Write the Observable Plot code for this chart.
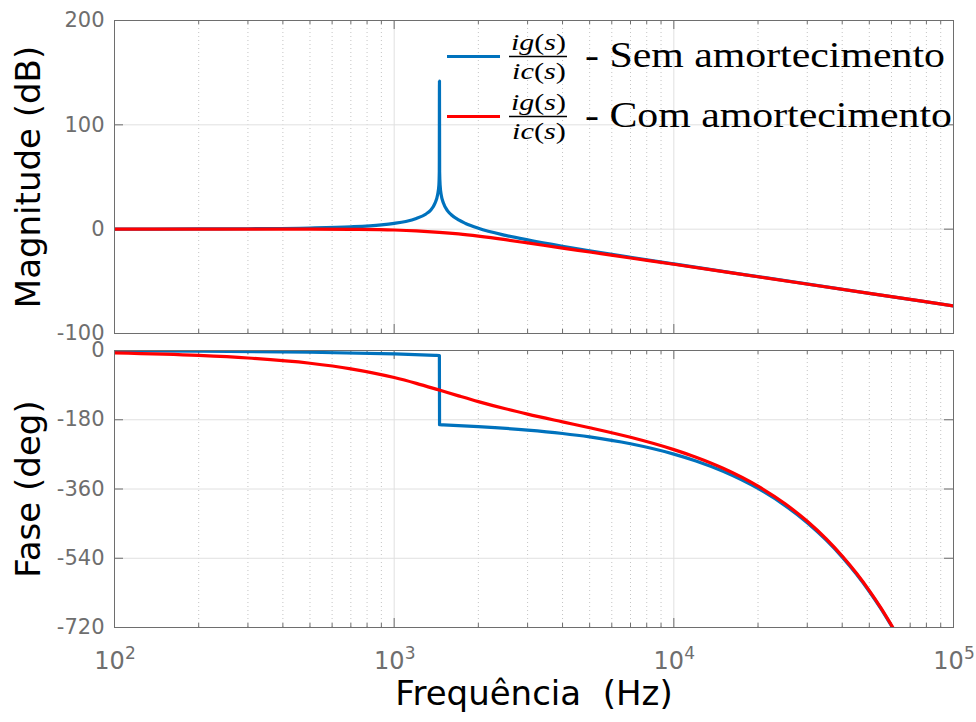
<!DOCTYPE html>
<html>
<head>
<meta charset="utf-8">
<script src="https://cdn.jsdelivr.net/npm/d3@7"></script>
<script src="https://cdn.jsdelivr.net/npm/@observablehq/plot@0.6"></script>
<style>
  body { margin: 0; background: #fff; }
  #chart { position: relative; width: 976px; height: 722px; background: #fff; overflow: hidden; }
  #chart svg { position: absolute; left: 0; overflow: visible; }
</style>
</head>
<body>
<div id="chart"></div>
<script>
// ---- Frequency axis ----
const freqDomain = [100, 100000];
const decadeTicks = [100, 1000, 10000, 100000];
const decadeBase = "10";
const decadeExponents = ["2", "3", "4", "5"];
const minorFreqs = [200, 300, 400, 500, 600, 700, 800, 900,
  2000, 3000, 4000, 5000, 6000, 7000, 8000, 9000,
  20000, 30000, 40000, 50000, 60000, 70000, 80000, 90000];

// ---- Magnitude panel ----
const magDomain = [-100, 200];
const magTicks = [-100, 0, 100, 200];
const magGrid = [0, 100];

// ig/ic without damping (Hz, dB)
const magSemFreq = [100, 200, 300, 500, 700, 900, 1000, 1100, 1200, 1300, 1350, 1400, 1430, 1445, 1450, 1452,
  1454, 1460, 1475, 1500, 1550, 1600, 1700, 1800, 2000, 2500, 3000, 4000, 5000, 7000, 10000, 20000, 50000, 100000];
const magSemDb = [0.0, 0.2, 0.4, 1.1, 2.3, 4.2, 5.6, 7.4, 10.2, 14.6, 18.2, 25.0, 33.0, 42.0, 55.0, 142.0,
  55.0, 42.0, 32.0, 25.0, 17.8, 13.8, 8.8, 5.5, 0.9, -5.9, -10.3, -16.4, -20.7, -26.9, -33.3, -45.5, -61.5, -73.5];

// ig/ic with damping (Hz, dB)
const magComFreq = [100, 200, 500, 700, 1000, 1200, 1450, 1700, 2000, 2500, 3000, 4000, 5000, 7000, 10000, 20000, 50000, 100000];
const magComDb = [0.0, 0.0, 0.0, -0.2, -0.8, -1.6, -3.0, -4.6, -6.7, -10.1, -13.2, -18.2, -21.9, -27.6, -33.6, -45.6, -61.5, -73.5];

// ---- Phase panel ----
const faseDomain = [-720, 0];
const faseTicks = [-720, -540, -360, -180, 0];
const faseGrid = [-540, -360, -180];

// without damping (Hz, deg)
const faseSemFreq = [100, 200, 500, 1000, 1400, 1451, 1453, 1500, 2000, 3000, 4000, 5000, 7000, 10000, 12000,
  15000, 20000, 25000, 30000, 35000, 40000, 45000, 50000, 55000, 60480];
const faseSemDeg = [-0.9, -1.8, -4.5, -8.9, -12.5, -13.0, -193.0, -193.4, -197.9, -206.8, -215.7, -224.6, -242.5, -269.3, -287.1,
  -313.9, -358.6, -403.2, -447.8, -492.5, -537.1, -581.8, -626.4, -671.0, -720.0];

// with damping (Hz, deg)
const faseComFreq = [100, 200, 300, 500, 700, 1000, 1200, 1450, 1700, 2000, 2500, 3000, 4000, 5000, 7000, 10000, 12000,
  15000, 20000, 25000, 30000, 35000, 40000, 45000, 50000, 55000, 60700];
const faseComDeg = [-6.4, -12.9, -19.5, -33.1, -47.6, -70.3, -85.4, -102.9, -117.9, -132.8, -151.5, -165.3, -185.4, -200.7, -225.6, -257.6, -277.4,
  -306.1, -352.7, -398.5, -444.0, -489.2, -534.2, -579.2, -624.1, -668.9, -720.0];

// ---- Series / text ----
const seriesNames = ["Sem amortecimento", "Com amortecimento"];
const seriesColors = ["#0072BD", "#FF0000"];
const magTitle = "Magnitude (dB)";
const faseTitle = "Fase (deg)";
const freqTitle = "Frequência  (Hz)";

const toRows = (fs, vs) => fs.map((f, i) => ({f, v: vs[i]}));
const magSem = toRows(magSemFreq, magSemDb);
const magCom = toRows(magComFreq, magComDb);
const faseSem = toRows(faseSemFreq, faseSemDeg);
const faseCom = toRows(faseComFreq, faseComDeg);

const axisColor = "#6e6e6e";
const gridColor = "#e0e0e0";
const minorColor = "#c4c4c4";
const W = 976, mL = 114, mR = 23;
const innerW = W - mL - mR;

function panel({height, marginTop, marginBottom, yDomain, yTicks, yGrid, series, title, bottomAxis}) {
  const innerH = height - marginTop - marginBottom;
  const marks = [
    Plot.ruleX(minorFreqs, {stroke: minorColor, strokeDasharray: "1,3"}),
    Plot.ruleX(decadeTicks.slice(1, -1), {stroke: gridColor}),
    Plot.ruleY(yGrid, {stroke: gridColor}),
    // inward ticks on all four sides
    Plot.tickY(yTicks, {y: d => d, stroke: axisColor, insetRight: innerW - 9}),
    Plot.tickY(yTicks, {y: d => d, stroke: axisColor, insetLeft: innerW - 9}),
    Plot.tickX(decadeTicks, {x: d => d, stroke: axisColor, insetTop: innerH - 9}),
    Plot.tickX(decadeTicks, {x: d => d, stroke: axisColor, insetBottom: innerH - 9}),
    Plot.tickX(minorFreqs, {x: d => d, stroke: axisColor, insetTop: innerH - 4}),
    Plot.tickX(minorFreqs, {x: d => d, stroke: axisColor, insetBottom: innerH - 4}),
    ...series.map((rows, i) => Plot.line(rows, {
      x: "f", y: "v", stroke: seriesColors[i], strokeWidth: 3.2, curve: "monotone-x", clip: true
    })),
    Plot.frame({stroke: axisColor}),
    Plot.axisY(yTicks, {tickSize: 0, tickPadding: 10, fontSize: 21, color: axisColor,
      tickFormat: d => String(d), label: null}),
    Plot.text([title], {text: d => d, frameAnchor: "left", textAnchor: "middle", rotate: -90, dx: -85,
      fontSize: 34, fill: "#000"})
  ];
  if (bottomAxis) {
    marks.push(
      // decade labels: base "10" with a raised exponent
      Plot.text(decadeTicks, {x: d => d, text: () => decadeBase, frameAnchor: "bottom", lineAnchor: "top",
        dx: -5, dy: 24, fontSize: 24, fill: axisColor}),
      Plot.text(decadeTicks, {x: d => d, text: (d, i) => decadeExponents[i], frameAnchor: "bottom", lineAnchor: "top",
        textAnchor: "start", dx: 10.5, dy: 19, fontSize: 17, fill: axisColor}),
      Plot.text([freqTitle], {text: d => d, frameAnchor: "bottom", dy: 77, fontSize: 34, fill: "#000"})
    );
  }
  return Plot.plot({
    width: W, height, marginLeft: mL, marginRight: mR, marginTop, marginBottom,
    x: {type: "log", domain: freqDomain, axis: null},
    y: {domain: yDomain},
    style: {fontFamily: "DejaVu Sans", background: "transparent", overflow: "visible"},
    marks
  });
}

const topPlot = panel({height: 340, marginTop: 20, marginBottom: 7, yDomain: magDomain, yTicks: magTicks,
  yGrid: magGrid, series: [magSem, magCom], title: magTitle, bottomAxis: false});
const botPlot = panel({height: 382, marginTop: 10, marginBottom: 95, yDomain: faseDomain, yTicks: faseTicks,
  yGrid: faseGrid, series: [faseSem, faseCom], title: faseTitle, bottomAxis: true});

topPlot.style.top = "0px";
botPlot.style.top = "340px";
const chart = document.getElementById("chart");
chart.appendChild(botPlot);
chart.appendChild(topPlot);

// Legend: line sample, ig(s)/ic(s) fraction and series name
const leg = d3.select(topPlot).append("g")
  .attr("font-family", "Liberation Serif").attr("fill", "#000").attr("text-anchor", "start");
seriesNames.forEach((name, i) => {
  const cy = 56.5 + i * 60;
  leg.append("line").attr("x1", 447).attr("x2", 500).attr("y1", cy).attr("y2", cy)
    .attr("stroke", seriesColors[i]).attr("stroke-width", 3.2);
  const num = leg.append("text").attr("x", 511).attr("y", cy - 6.5).attr("font-size", 23)
    .attr("textLength", 55).attr("lengthAdjust", "spacingAndGlyphs");
  num.append("tspan").attr("font-style", "italic").text("ig");
  num.append("tspan").text("(");
  num.append("tspan").attr("font-style", "italic").text("s");
  num.append("tspan").text(")");
  leg.append("line").attr("x1", 509).attr("x2", 567).attr("y1", cy).attr("y2", cy)
    .attr("stroke", "#000").attr("stroke-width", 1.3);
  const den = leg.append("text").attr("x", 512).attr("y", cy + 22.5).attr("font-size", 23)
    .attr("textLength", 54).attr("lengthAdjust", "spacingAndGlyphs");
  den.append("tspan").attr("font-style", "italic").text("ic");
  den.append("tspan").text("(");
  den.append("tspan").attr("font-style", "italic").text("s");
  den.append("tspan").text(")");
  leg.append("text").attr("x", 585).attr("y", cy + 10.5).attr("font-size", 35)
    .attr("textLength", i === 0 ? 360 : 367).attr("lengthAdjust", "spacingAndGlyphs")
    .text("- " + name);
});
</script>
</body>
</html>
